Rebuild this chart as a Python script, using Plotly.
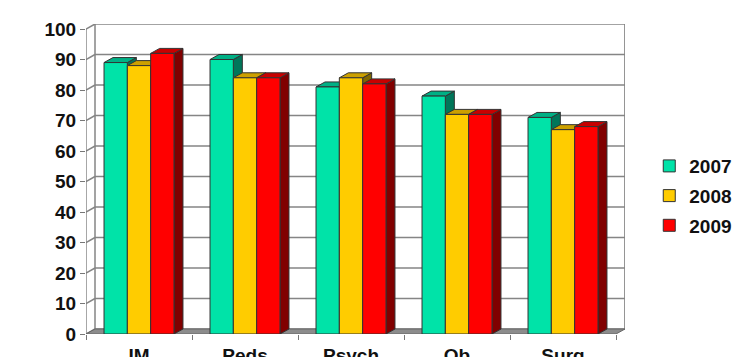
import plotly.graph_objects as go

# ---- data ----
categories = ["IM", "Peds", "Psych", "Ob", "Surg"]
series_names = ["2007", "2008", "2009"]
values_2007 = [89, 90, 81, 78, 71]
values_2008 = [88, 84, 84, 72, 67]
values_2009 = [92, 84, 82, 72, 68]
y_ticks = list(range(0, 101, 10))

series_values = [values_2007, values_2008, values_2009]
front_colors = ["#00E3A8", "#FFCC00", "#FF0000"]
side_colors = ["#00765A", "#806600", "#800000"]
top_colors = ["#00B085", "#CCA000", "#C80000"]

# ---- geometry (pseudo 3D) ----
W_PX, H_PX = 539, 310          # plot area size in px
DX_PX, DY_PX = 9, 5            # depth offset in px
n = len(categories)
ux = (W_PX - DX_PX) / n
uy = (H_PX - DY_PX) / 100.0
DX = DX_PX / ux
DY = DY_PX / uy
XMAX = n + DX
YMAX = 100 + DY

BAR_W = 0.22
CLUSTER = BAR_W * len(series_values)
centers = [i + 0.5 for i in range(n)]

GRID = "#858585"
shapes = []

def poly(pts, fill, line="#333333", lw=1):
    path = "M " + " L ".join(f"{x},{y}" for x, y in pts) + " Z"
    return dict(type="path", path=path, xref="x", yref="y", fillcolor=fill,
                line=dict(color=line, width=lw), layer="below")

def seg(x0, y0, x1, y1, color=GRID, w=1.5):
    return dict(type="line", x0=x0, y0=y0, x1=x1, y1=y1, xref="x", yref="y",
                line=dict(color=color, width=w), layer="below")

# back wall + left wall grid
for v in y_ticks:
    shapes.append(seg(DX, v + DY, XMAX, v + DY))
    shapes.append(seg(0, v, DX, v + DY))
shapes.append(seg(DX, DY, DX, YMAX))
shapes.append(seg(XMAX - 0.001, DY, XMAX - 0.001, YMAX))
shapes.append(seg(0, 0, 0, 100, color="#777777", w=1.3))
# floor
shapes.append(poly([(0, 0), (n, 0), (XMAX, DY), (DX, DY)], "#8C8C8C", line="#666666", lw=1))

# side and top faces of the bars
for i in range(n):
    for j, vals in enumerate(series_values):
        v = vals[i]
        left = centers[i] - CLUSTER / 2 + j * BAR_W
        right = left + BAR_W
        shapes.append(poly([(right, 0), (right + DX, DY), (right + DX, v + DY), (right, v)],
                           side_colors[j]))
        shapes.append(poly([(left, v), (left + DX, v + DY), (right + DX, v + DY), (right, v)],
                           top_colors[j]))

fig = go.Figure()
for j, (name, vals) in enumerate(zip(series_names, series_values)):
    fig.add_trace(go.Bar(
        x=centers, y=vals, name=name,
        width=BAR_W, offset=-CLUSTER / 2 + j * BAR_W,
        marker=dict(color=front_colors[j], line=dict(color="#333333", width=1)),
        legendgroup=name,
    ))

font_bold = dict(family="Liberation Sans, Arial, sans-serif", size=19, color="#111111", weight="bold")

fig.update_layout(
    width=733, height=357,
    margin=dict(l=86, r=733 - 86 - W_PX, t=24, b=357 - 24 - H_PX, autoexpand=False),
    paper_bgcolor="white", plot_bgcolor="white",
    barmode="overlay",
    shapes=shapes,
    showlegend=True,
    legend=dict(x=1.045, xanchor="left", y=0.445, yanchor="middle",
                font=font_bold, bgcolor="rgba(0,0,0,0)", tracegroupgap=2,
                itemwidth=30),
    xaxis=dict(range=[0, XMAX], showgrid=False, zeroline=False, showline=False,
               tickmode="array", tickvals=centers, ticktext=categories,
               ticks="outside", ticklen=4, tickcolor="rgba(0,0,0,0)",
               tickfont=font_bold, automargin=False,
               minor=dict(tickmode="array", tickvals=list(range(n + 1)),
                          ticks="outside", ticklen=5, tickcolor="#777777", showgrid=False)),
    yaxis=dict(range=[0, YMAX], showgrid=False, zeroline=False, showline=False,
               tickmode="array", tickvals=y_ticks,
               ticks="outside", ticklen=5, tickcolor="#777777",
               tickfont=font_bold, automargin=False),
)

fig.write_html("out.html")
